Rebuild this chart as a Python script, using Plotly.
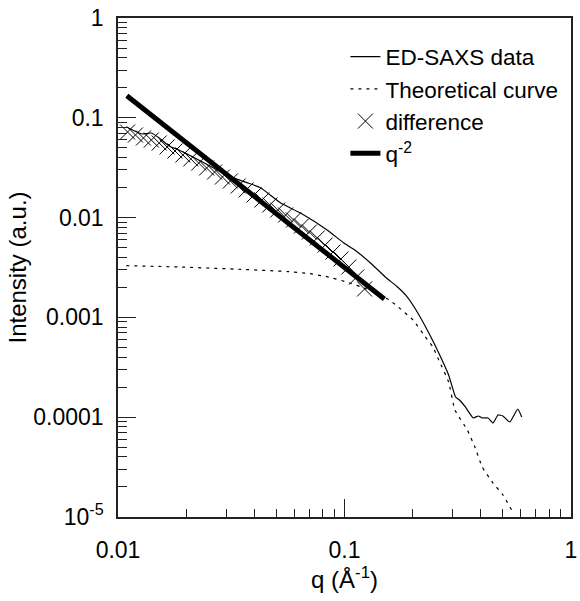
import plotly.graph_objects as go

# ED-SAXS data
q_data = [0.01088, 0.01183, 0.01282, 0.01403, 0.01520, 0.01681, 0.01858, 0.02055, 0.02272,
          0.02642, 0.03069, 0.03752, 0.04276, 0.05228, 0.06393, 0.08381, 0.0994, 0.1110,
          0.1317, 0.1531, 0.1700, 0.1872, 0.2069, 0.2357, 0.2607, 0.2882, 0.3092, 0.3218,
          0.3418, 0.3704, 0.3895, 0.4055, 0.4306, 0.4528, 0.4761, 0.5006, 0.5370, 0.5821,
          0.6059]
I_data = [0.0814, 0.0738, 0.0688, 0.0704, 0.0628, 0.0522, 0.0476, 0.0424, 0.0378,
          0.0314, 0.0261, 0.0222, 0.0198, 0.0140, 0.01112, 0.00751, 0.00556, 0.00474,
          0.00343, 0.00248, 0.00205, 0.001650, 0.001186, 0.000698, 0.00044, 0.000265,
          0.0001594, 0.0001488, 0.0001266, 0.0000982, 0.0001028, 0.0000982, 0.0000982,
          0.0000875, 0.0001052, 0.0001028, 0.0000895, 0.0001208, 0.0001005]

# Theoretical curve
q_theo = [0.01088, 0.01858, 0.0350, 0.0561, 0.0685, 0.0838, 0.1024, 0.1252, 0.1578, 0.1727,
          0.2008, 0.2243, 0.2455, 0.2607, 0.2882, 0.3072, 0.3488, 0.3779, 0.4055, 0.4528,
          0.5006, 0.548]
I_theo = [0.0033, 0.0032, 0.00303, 0.00288, 0.002766, 0.002558, 0.00226, 0.001926, 0.001494,
          0.001271, 0.000942, 0.000666, 0.000505, 0.000374, 0.0002253, 0.000118, 0.0000744,
          0.0000491, 0.0000317, 0.0000219, 0.0000166, 0.0000117]

# difference
q_diff = [0.01102, 0.01194, 0.01295, 0.01403, 0.01520, 0.01647, 0.01785, 0.01934, 0.02096,
          0.02272, 0.02462, 0.02668, 0.02891, 0.03133, 0.03395, 0.03678, 0.03986, 0.04319,
          0.04681, 0.05072, 0.05496, 0.05957, 0.06455, 0.06994, 0.07580, 0.08213, 0.08900,
          0.09645, 0.1045, 0.1132, 0.1227]
I_diff = [0.0721, 0.0673, 0.0627, 0.0599, 0.0559, 0.0510, 0.0465, 0.0424, 0.0387, 0.0352,
          0.0314, 0.0286, 0.0255, 0.02326, 0.02073, 0.01891, 0.01685, 0.01501, 0.01338,
          0.01192, 0.01062, 0.00946, 0.00823, 0.00717, 0.00625, 0.00531, 0.00452, 0.00385,
          0.0032, 0.00254, 0.001926]

# q^-2 guide line
q_pow = [0.01094, 0.150]
I_pow = [0.1665, 0.00153]

x_tickvals = [0.01, 0.1, 1]
x_ticktext = ["0.01", "0.1", "1"]
x_minor = [0.02, 0.03, 0.04, 0.05, 0.06, 0.07, 0.08, 0.09,
           0.2, 0.3, 0.4, 0.5, 0.6, 0.7, 0.8, 0.9]
y_tickvals = [1e-5, 1e-4, 1e-3, 1e-2, 1e-1, 1]
y_ticktext = ["10<sup>-5</sup>", "0.0001", "0.001", "0.01", "0.1", "1"]
y_minor = [m * 10.0 ** e for e in range(-5, 0) for m in range(2, 10)]

FONT = "Liberation Sans, Arial, sans-serif"

fig = go.Figure()
fig.add_trace(go.Scatter(x=q_data, y=I_data, mode="lines", name="ED-SAXS data",
                         line=dict(color="black", width=1.2, shape="spline", smoothing=0.4)))
fig.add_trace(go.Scatter(x=q_theo, y=I_theo, mode="lines", name="Theoretical curve",
                         line=dict(color="black", width=1.2, dash="3px,5px",
                                   shape="spline", smoothing=0.4)))
fig.add_trace(go.Scatter(x=q_diff, y=I_diff, mode="markers", name="difference",
                         marker=dict(symbol="x-thin", size=15, color="black",
                                     line=dict(color="black", width=1))))
fig.add_trace(go.Scatter(x=q_pow, y=I_pow, mode="lines", name="q<sup>-2</sup>",
                         line=dict(color="black", width=5)))

axis_common = dict(type="log", showgrid=False, zeroline=False, showline=True,
                   linecolor="#222", linewidth=1.5, mirror=True, ticks="inside",
                   tickcolor="#222", tickwidth=1.2, ticklen=18,
                   ticklabeloverflow="allow",
                   tickfont=dict(family=FONT, size=23, color="black"))

fig.update_xaxes(range=[-2, 0], tickmode="array", tickvals=x_tickvals, ticktext=x_ticktext,
                 ticklabelstandoff=12,
                 minor=dict(tickmode="array", tickvals=x_minor, ticks="inside", ticklen=8,
                            tickcolor="#222", tickwidth=1, showgrid=False),
                 title=dict(text="q (Å<sup>-1</sup>)", font=dict(family=FONT, size=24, color="black"),
                            standoff=6),
                 **axis_common)
fig.update_yaxes(range=[-5, 0], tickmode="array", tickvals=y_tickvals, ticktext=y_ticktext,
                 ticklabelstandoff=8,
                 minor=dict(tickmode="array", tickvals=y_minor, ticks="inside", ticklen=9,
                            tickcolor="#222", tickwidth=1, showgrid=False),
                 title=dict(text="Intensity (a.u.)", font=dict(family=FONT, size=24, color="black"),
                            standoff=0),
                 **axis_common)

fig.update_layout(width=580, height=601, margin=dict(l=118, r=3, t=18, b=84),
                  paper_bgcolor="white", plot_bgcolor="white",
                  font=dict(family=FONT, size=22, color="black"),
                  legend=dict(x=0.502, y=0.965, xanchor="left", yanchor="top",
                              bgcolor="rgba(0,0,0,0)", font=dict(family=FONT, size=22.5),
                              tracegroupgap=0, itemwidth=30))

fig.write_html("out.html")
